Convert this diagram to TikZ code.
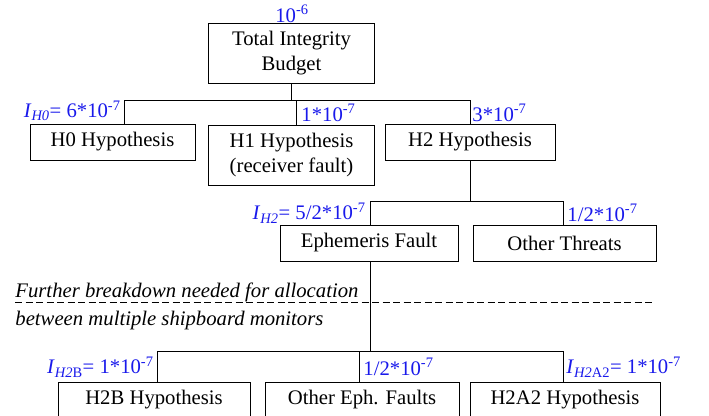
\documentclass[tikz,border=0pt]{standalone}
\usepackage{fontspec}
\setmainfont{Liberation Serif}
\usepackage{tikz}
\definecolor{budgetblue}{RGB}{25,25,235}

\begin{document}
\begin{tikzpicture}[x=1pt,y=-1pt,line width=0.9pt]
            \tikzstyle{box}=[draw,inner sep=2pt,align=center,font=\fontsize{20.7}{25}\selectfont]
            \tikzstyle{alloc}=[text=budgetblue,inner sep=0pt,font=\fontsize{20.7}{25}\selectfont]
            \tikzstyle{note}=[inner sep=0pt,anchor=base west,font=\fontsize{20.7}{25}\selectfont\itshape]
            \useasboundingbox (0,0) rectangle (709,415);
            % boxes
            \node[box,minimum width=166,minimum height=60] (total) at (291.5,53) {Total Integrity\\Budget};
            \node[box,minimum width=165,minimum height=36] (h0) at (112.5,142) {H0 Hypothesis};
            \node[box,minimum width=166,minimum height=60] (h1) at (291.5,155) {H1 Hypothesis\\(receiver fault)};
            \node[box,minimum width=170,minimum height=36] (h2) at (470,142) {H2 Hypothesis};
            \node[box,minimum width=178,minimum height=36] (eph) at (369,243) {Ephemeris Fault};
            \node[box,minimum width=183,minimum height=36] (other) at (564.5,243) {Other Threats};
            \node[box,minimum width=192,minimum height=36] (h2b) at (154,400) {H2B Hypothesis};
            \node[box,minimum width=194,minimum height=36] (otheph) at (362,400) {Other Eph. Faults};
            \node[box,minimum width=190,minimum height=36] (h2a2) at (565,400) {H2A2 Hypothesis};
            % tree lines
            \draw (total.south) -- ++(0,18);
            \draw ([xshift=11.5]h0.north) -- ++(0,-23) -| (h2.north);
            \draw ([xshift=4.5]h1.north) -- ++(0,-24);
            \draw (h2.south) -- ++(0,42);
            \draw ([xshift=1]eph.north) -- ++(0,-23) -| ([xshift=-1.5]other.north);
            \draw ([xshift=1]eph.south) -- ++(0,91);
            \draw ([xshift=3]h2b.north) -- ++(0,-30) -| ([xshift=-2]h2a2.north);
            \draw ([xshift=-3]otheph.north) -- ++(0,-30);
            % allocations
            \node[alloc] (a-total) at (292,14) {10\textsuperscript{-6}};
            \node[alloc,anchor=east] (a-h0) at (121,111) {\textit{I}\textsubscript{\textit{H0}}= 6*10\textsuperscript{-7}};
            \node[alloc,anchor=west] (a-h1) at (301,113) {1*10\textsuperscript{-7}};
            \node[alloc,anchor=west] (a-h2) at (472,113) {3*10\textsuperscript{-7}};
            \node[alloc,anchor=east] (a-eph) at (366,213) {\textit{I}\textsubscript{\textit{H2}}= 5/2*10\textsuperscript{-7}};
            \node[alloc,anchor=west] (a-other) at (567,213) {1/2*10\textsuperscript{-7}};
            \node[alloc,anchor=east] (a-h2b) at (154,367) {\textit{I}\textsubscript{\textit{H2}B}= 1*10\textsuperscript{-7}};
            \node[alloc,anchor=west] (a-otheph) at (363,367) {1/2*10\textsuperscript{-7}};
            \node[alloc,anchor=west] (a-h2a2) at (566,367) {\textit{I}\textsubscript{\textit{H2}A2}= 1*10\textsuperscript{-7}};
            % monitor note
            \coordinate (dash-l) at (15,302);
            \coordinate (dash-r) at (655,302);
            \draw[dash pattern=on 7pt off 3.5pt,line width=0.8pt] (dash-l) -- (dash-r);
            \node[note] (note1) at (15,297) {Further breakdown needed for allocation};
            \node[note] (note2) at (15,325) {between multiple shipboard monitors};
        \end{tikzpicture}
\end{document}
